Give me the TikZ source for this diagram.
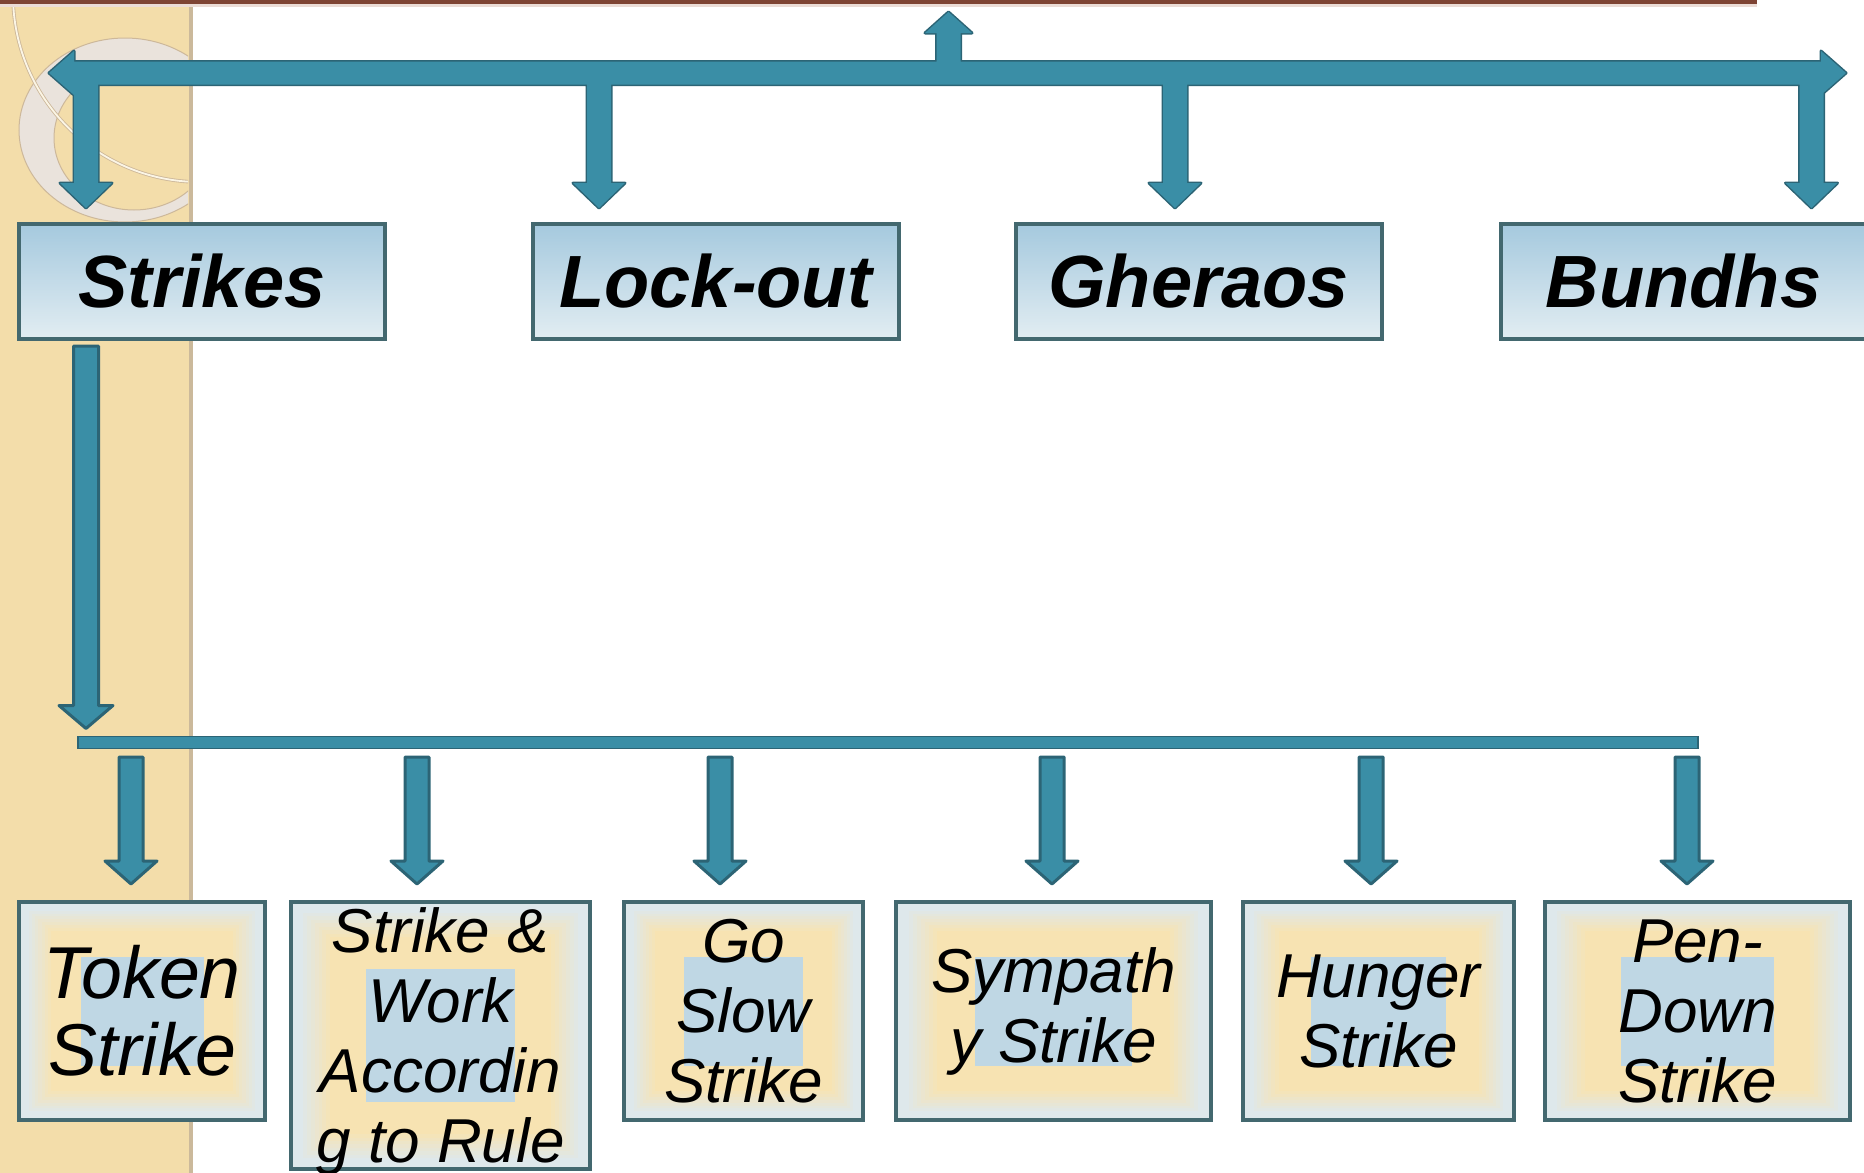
\documentclass[tikz,border=0pt]{standalone}
\usepackage{fontspec}
\setmainfont{Liberation Sans}
\usetikzlibrary{calc}
\definecolor{teal1}{HTML}{3A8EA6}
\definecolor{tealdark}{HTML}{2C6475}
\definecolor{boxborder}{HTML}{43686F}
\definecolor{topA}{HTML}{A5C9DE}
\definecolor{topB}{HTML}{E2EDF2}
\definecolor{boxouter}{HTML}{DEE8EB}
\definecolor{glow}{HTML}{F7E3B2}
\definecolor{innerblue}{HTML}{BFD7E4}
\definecolor{strip}{HTML}{F3DDAA}
\definecolor{stripline}{HTML}{CBB99B}
\definecolor{brownline}{HTML}{7E4434}
\definecolor{pinkline}{HTML}{EBDCD6}
\definecolor{ringcol}{HTML}{EAE3DC}
\definecolor{ringedge}{HTML}{CDB89A}

% block arrow outlines (start, tip, half shaft, half head, head length), all drawn clockwise
\newcommand\dnarrowpath[5]{($(#1)+(#3,0)$) -- ($(#2)+(#3,-#5)$) -- ($(#2)+(#4,-#5)$) -- (#2) -- ($(#2)+(-#4,-#5)$) -- ($(#2)+(-#3,-#5)$) -- ($(#1)+(-#3,0)$) -- cycle }
\newcommand\uparrowpath[5]{($(#1)+(-#3,0)$) -- ($(#2)+(-#3,#5)$) -- ($(#2)+(-#4,#5)$) -- (#2) -- ($(#2)+(#4,#5)$) -- ($(#2)+(#3,#5)$) -- ($(#1)+(#3,0)$) -- cycle }
\newcommand\hbarpath[5]{(#1) -- ($(#1)+(#5,-#4)$) -- ($(#1)+(#5,-#3)$) -- ($(#2)+(-#5,-#3)$) -- ($(#2)+(-#5,-#4)$) -- (#2) -- ($(#2)+(-#5,#4)$) -- ($(#2)+(-#5,#3)$) -- ($(#1)+(#5,#3)$) -- ($(#1)+(#5,#4)$) -- cycle }

\begin{document}
\begin{tikzpicture}[x=1pt,y=-1pt,
  topbox/.style={draw=boxborder, line width=4pt, top color=topA, bottom color=topB,
    minimum width=366pt, minimum height=115pt, inner sep=0pt,
    font=\fontsize{74}{80}\selectfont\bfseries\itshape},
  bottombox/.style={draw=boxborder, line width=4pt, fill=boxouter, inner sep=0pt,
    align=center, minimum height=218pt, font=\fontsize{62}{70}\selectfont\itshape,
    path picture={
      \path (path picture bounding box.south west) coordinate (pA)
            (path picture bounding box.north east) coordinate (pB);
      \foreach \i in {0,...,7}{
        \pgfmathsetmacro\f{0.04+0.013*\i}
        \pgfmathtruncatemacro\p{12.5*(\i+1)}
        \fill[glow!\p!boxouter] ($(pA)!\f!(pB)$) rectangle ($(pA)!{1-\f}!(pB)$);
      }
      \fill[innerblue] ($(pA)!0.25!(pB)$) rectangle ($(pA)!0.75!(pB)$);
    }},
  arrowline/.style={draw=tealdark, line width=3pt, line join=round},
  arrowfill/.style={fill=teal1}
]
\useasboundingbox (0,0) rectangle (1864,1173);
\fill[white] (0,0) rectangle (1864,1173);

% left decorative strip
\fill[strip] (0,0) rectangle (190,1173);
\begin{scope}
  \clip (0,0) rectangle (188,1173);
  \fill[ringcol, even odd rule] (125,130) ellipse [x radius=106, y radius=92]
                                (134,138) ellipse [x radius=80, y radius=72];
  \draw[ringedge, line width=1pt] (125,130) ellipse [x radius=106, y radius=92];
  \draw[ringedge, line width=1pt] (134,138) ellipse [x radius=80, y radius=72];
  \draw[ringedge, line width=3.5pt] (200,-5) circle (187);
  \draw[white!70!strip, line width=1.8pt] (200,-5) circle (187);
\end{scope}
\draw[stripline, line width=4pt] (190.5,0) -- (190.5,1173);

% top edge of the box above
\fill[pinkline] (0,3) rectangle (1757,7);
\fill[brownline] (0,0) rectangle (1757,3.5);

% top row
\node[topbox] (strikes) at (202,281.5) {Strikes};
\node[topbox] (lockout) at (715.5,281.5) {Lock-out};
\node[topbox] (gheraos) at (1198.5,281.5) {Gheraos};
\node[topbox] (bundhs)  at (1683.5,281.5) {Bundhs};

% bottom row
\node[bottombox, minimum width=246pt, font=\fontsize{73.5}{77}\selectfont\itshape] (token) at (142,1011) {Token\\Strike};
\node[bottombox, minimum width=299pt, minimum height=267pt, text depth=0pt] (work) at (440.5,1035.5) {Strike \&\\Work\\Accordin\\g to Rule};
\node[bottombox, minimum width=239pt] (goslow) at (743.5,1011) {Go\\Slow\\Strike};
\node[bottombox, minimum width=315pt] (sympathy) at (1053.5,1011) {Sympath\\y Strike};
\node[bottombox, minimum width=271pt] (hunger) at (1378.5,1011) {Hunger\\Strike};
\node[bottombox, minimum width=305pt] (pendown) at (1697.5,1011) {Pen-\\Down\\Strike};

% connector coordinates
\coordinate (busL) at (49,73);
\coordinate (busR) at (1846,73);
\coordinate (upbase) at (948.5,73);
\coordinate (uptip) at (948.5,12);
\coordinate (d1) at (86,73);
\coordinate (d2) at (599,73);
\coordinate (d3) at (1175,73);
\coordinate (d4) at (1811.5,73);
\coordinate (d1tip) at ($(d1 |- strikes.north)+(0,-14)$);
\coordinate (d2tip) at ($(d2 |- lockout.north)+(0,-14)$);
\coordinate (d3tip) at ($(d3 |- gheraos.north)+(0,-14)$);
\coordinate (d4tip) at ($(d4 |- bundhs.north)+(0,-14)$);
\coordinate (bar2L) at (78,742.5);
\coordinate (bar2R) at (1698,742.5);
\coordinate (s0) at ($(strikes.south -| d1)+(0,5)$);
\coordinate (s0tip) at ($(s0 |- bar2L)+(0,-14)$);
\coordinate (e1) at (131,757);
\coordinate (e2) at (417,757);
\coordinate (e3) at (720,757);
\coordinate (e4) at (1052,757);
\coordinate (e5) at (1371,757);
\coordinate (e6) at (1687,757);
\coordinate (e1tip) at ($(e1 |- token.north)+(0,-16)$);
\coordinate (e2tip) at ($(e2 |- work.north)+(0,-16)$);
\coordinate (e3tip) at ($(e3 |- goslow.north)+(0,-16)$);
\coordinate (e4tip) at ($(e4 |- sympathy.north)+(0,-16)$);
\coordinate (e5tip) at ($(e5 |- hunger.north)+(0,-16)$);
\coordinate (e6tip) at ($(e6 |- pendown.north)+(0,-16)$);

\def\toparrows{\hbarpath{busL}{busR}{11.5}{22}{25}
  \uparrowpath{upbase}{uptip}{12}{23.5}{21}
  \dnarrowpath{d1}{d1tip}{12}{26}{25}
  \dnarrowpath{d2}{d2tip}{12}{26}{25}
  \dnarrowpath{d3}{d3tip}{12}{26}{25}
  \dnarrowpath{d4}{d4tip}{12}{26}{25}}
\draw[arrowline] \toparrows;
\fill[arrowfill, nonzero rule] \toparrows;

% Strikes -> sub-bar
\draw[arrowline, arrowfill] \dnarrowpath{s0}{s0tip}{12.5}{27}{23};

% sub-bar
\draw[draw=tealdark, fill=teal1, line width=1.2pt] ($(bar2L)+(0,-6)$) rectangle ($(bar2R)+(0,6)$);

% sub-bar -> strike types
\draw[arrowline, arrowfill] \dnarrowpath{e1}{e1tip}{12}{26}{23};
\draw[arrowline, arrowfill] \dnarrowpath{e2}{e2tip}{12}{26}{23};
\draw[arrowline, arrowfill] \dnarrowpath{e3}{e3tip}{12}{26}{23};
\draw[arrowline, arrowfill] \dnarrowpath{e4}{e4tip}{12}{26}{23};
\draw[arrowline, arrowfill] \dnarrowpath{e5}{e5tip}{12}{26}{23};
\draw[arrowline, arrowfill] \dnarrowpath{e6}{e6tip}{12}{26}{23};
\end{tikzpicture}
\end{document}
